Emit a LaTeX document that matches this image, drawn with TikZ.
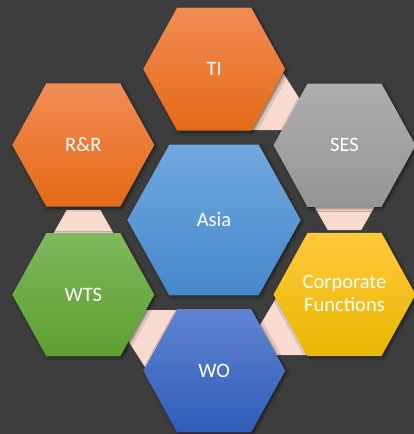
\documentclass[tikz,border=0pt]{standalone}
\usepackage{fontspec}
\setmainfont{Carlito}
\usetikzlibrary{shadows.blur}
\definecolor{bg}{HTML}{3D3D3D}
\definecolor{pinkc}{HTML}{F8DACF}
\definecolor{orT}{HTML}{F28C55}
\definecolor{orM}{HTML}{F57D2C}
\definecolor{orB}{HTML}{E46A17}
\definecolor{grT}{HTML}{AEAEAE}
\definecolor{grB}{HTML}{959595}
\definecolor{goT}{HTML}{FFC93C}
\definecolor{goM}{HTML}{FFC000}
\definecolor{goB}{HTML}{E9B700}
\definecolor{blT}{HTML}{5F83D1}
\definecolor{blB}{HTML}{2F5DB9}
\definecolor{gnT}{HTML}{7FB85D}
\definecolor{gnB}{HTML}{5E9F31}
\definecolor{asT}{HTML}{71A8DF}
\definecolor{asB}{HTML}{4588CB}
% hexagon path: cx, cy, half width, half height, inset
\newcommand{\hexpath}[5]{({#1-#3},{#2}) -- ({#1-#3+#5},{#2-#4}) -- ({#1+#3-#5},{#2-#4}) -- ({#1+#3},{#2}) -- ({#1+#3-#5},{#2+#4}) -- ({#1-#3+#5},{#2+#4}) -- cycle}
\newcommand{\outerhex}[2]{\hexpath{#1}{#2}{71}{61.6}{34}}
\tikzset{
  hexshape/.style={blur shadow={shadow xshift=1.5pt, shadow yshift=-1.5pt, shadow blur radius=3pt, shadow opacity=55}},
  linkshape/.style={fill=pinkc},
  lbl/.style={text=white, font=\fontsize{20.5}{23.5}\selectfont, align=center, inner sep=0pt},
  orangefill/.style={top color=orT, middle color=orM, bottom color=orB},
}
\begin{document}
\begin{tikzpicture}[x=1pt, y=-1pt]
\fill[bg] (0,0) rectangle (414,434);
\useasboundingbox (0,0) rectangle (414,434);
% connectors (behind the hexagons)
\path[linkshape] (276.9,63.3) -- (305.7,108.3) -- (292,130) -- (245,130) -- cycle;   % TI - SES
\path[linkshape] (305,190) -- (384,190) -- (361.3,230) -- (327.7,230) -- cycle;      % SES - CF
\path[linkshape] (254,335) -- (281,290) -- (320,355) -- (265,355) -- cycle;          % CF - WO
\path[linkshape] (151.1,376.7) -- (123,332.7) -- (136,310) -- (183,310) -- cycle;    % WO - WTS
\path[linkshape] (123,250) -- (44,250) -- (66.7,210) -- (100.3,210) -- cycle;        % WTS - R&R
% outer hexagons
\path[hexshape, orangefill] \outerhex{214.2}{69.1};
\path[hexshape, top color=grT, bottom color=grB] \outerhex{344.5}{145.3};
\path[hexshape, top color=goT, middle color=goM, bottom color=goB] \outerhex{344.5}{294.5};
\path[hexshape, top color=blT, bottom color=blB] \outerhex{214.2}{370.8};
\path[hexshape, top color=gnT, bottom color=gnB] \outerhex{83.3}{294.7};
\path[hexshape, orangefill] \outerhex{83.3}{145};
% centre hexagon
\path[hexshape, top color=asT, bottom color=asB] \hexpath{214}{220}{86.7}{75.3}{42};
% labels
\node[lbl] (ti) at (214.2,69.3) {TI};
\node[lbl] (ses) at (344.5,145.3) {SES};
\node[lbl] (cf) at (344.5,293.5) {Corporate\\Functions};
\node[lbl] (wo) at (214.2,370.8) {WO};
\node[lbl] (wts) at (83.3,294.7) {WTS};
\node[lbl] (rr) at (83.3,145) {R\&R};
\node[lbl] (asia) at (214,220) {Asia};
\end{tikzpicture}
\end{document}
